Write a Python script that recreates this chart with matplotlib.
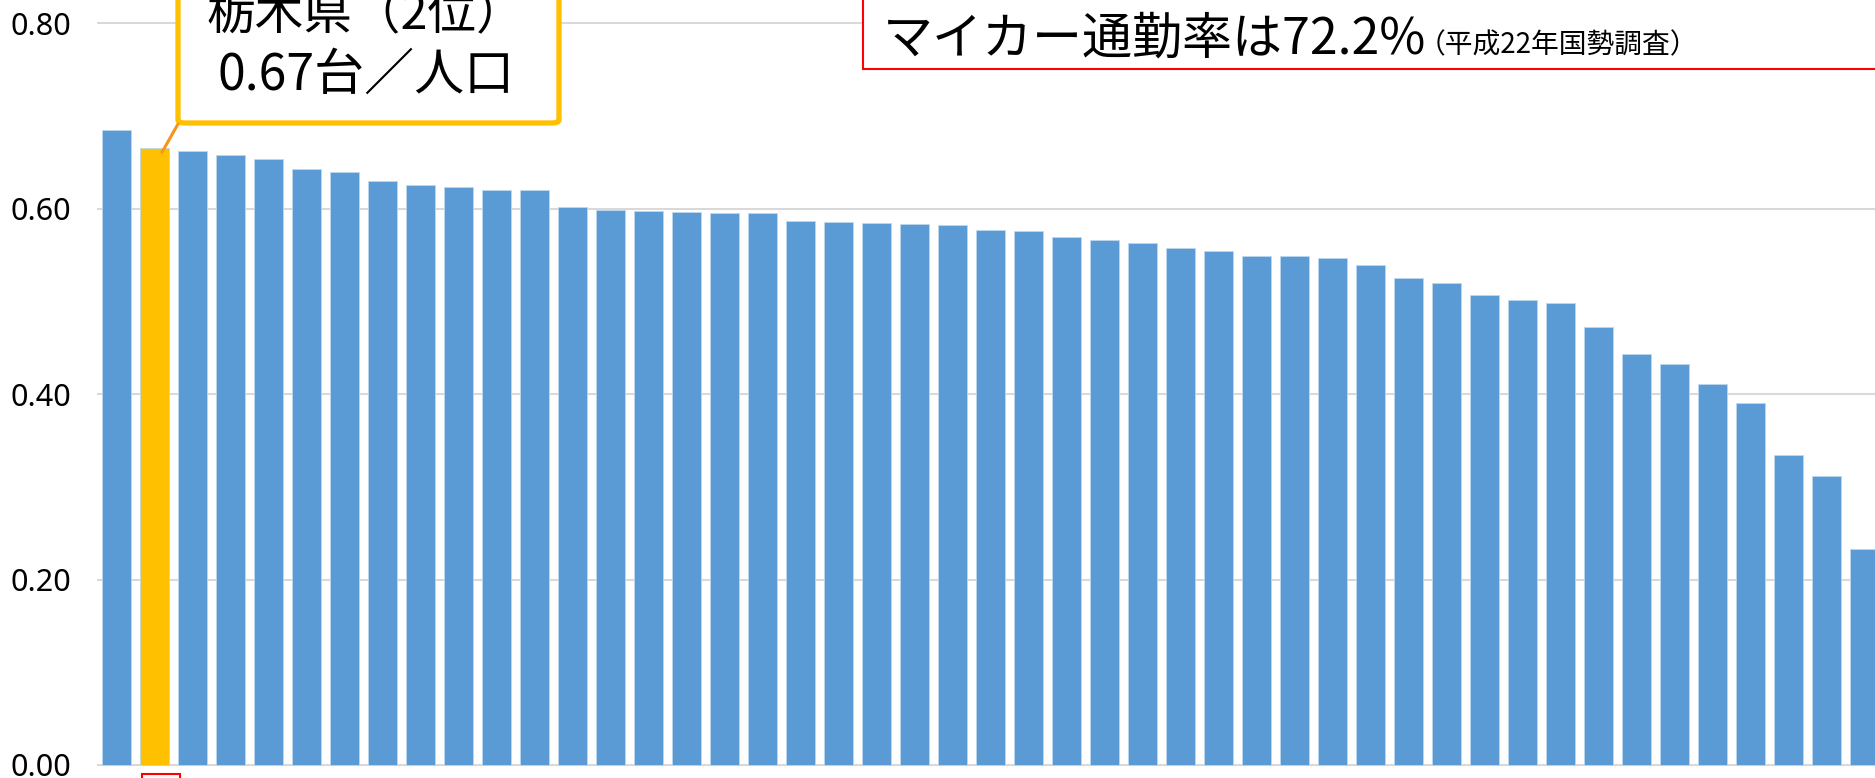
import matplotlib
matplotlib.use("Agg")
import matplotlib.pyplot as plt
from matplotlib.patches import FancyBboxPatch, Rectangle, ConnectionPatch

plt.rcParams['font.family'] = ['Noto Sans CJK JP', 'DejaVu Sans']

# cars per person, prefectures ranked 1..47
ranks = list(range(1, 48))
cars_per_person = [0.685, 0.666, 0.662, 0.658, 0.654, 0.643, 0.640, 0.630, 0.626, 0.624,
                   0.620, 0.620, 0.602, 0.599, 0.598, 0.597, 0.596, 0.595, 0.587, 0.586,
                   0.585, 0.584, 0.583, 0.577, 0.576, 0.570, 0.566, 0.563, 0.558, 0.555,
                   0.549, 0.549, 0.547, 0.539, 0.525, 0.520, 0.507, 0.502, 0.498, 0.472,
                   0.443, 0.433, 0.411, 0.390, 0.334, 0.312, 0.233]
highlight_rank = 2
y_ticks = [0.0, 0.2, 0.4, 0.6, 0.8]
box_name = "栃木県（2位）"
box_value = "0.67台／人口"
note_main = "マイカー通勤率は72.2%"
note_sub = "（平成22年国勢調査）"

W, H = 1875, 778


def fx(x):
    return x / W


def fy(y):
    return 1 - y / H


fig = plt.figure(figsize=(W / 100, H / 100), dpi=100)

# axes laid out in pixels: value 0 at y=765, 0.8 at y=23
y0_px = 765
px_per_unit = 927
ax = fig.add_axes([fx(97.4), 0, 47 * 38 / W, 1])
ax.set_xlim(-0.5, 46.5)
ax.set_ylim(-(H - y0_px) / px_per_unit, y0_px / px_per_unit)

colors = ['#FFC000' if r == highlight_rank else '#5B9BD5' for r in ranks]
xs = [r - 1 for r in ranks]
ax.bar(xs, cars_per_person, width=0.776, color=colors, edgecolor='#BDD7EE',
       linewidth=0.6, zorder=3)

for t in y_ticks:
    ax.axhline(t, color='#D9D9D9', lw=1.5, zorder=1)

ax.set_yticks(y_ticks)
ax.set_yticklabels(["%.2f" % t for t in y_ticks], fontsize=22, family='Noto Sans')
ax.tick_params(axis='y', length=0, pad=19)
ax.set_xticks([])
for s in ax.spines.values():
    s.set_visible(False)

# yellow callout
yb = FancyBboxPatch((fx(178), fy(123)), fx(559) - fx(178), fy(-30) - fy(123),
                    boxstyle="round,pad=0,rounding_size=0.004", transform=fig.transFigure,
                    facecolor='white', edgecolor='#FFC000', lw=3.8, zorder=5)
fig.add_artist(yb)
fig.text(fx(366), fy(16), box_name, ha='center', va='center', fontsize=35, zorder=6)
fig.text(fx(366), fy(76), box_value, ha='center', va='center', fontsize=36, zorder=6)

con = ConnectionPatch(xyA=(fx(178), fy(124)), coordsA='figure fraction',
                      xyB=(1.2, cars_per_person[1] - 0.005), coordsB='data', axesB=ax,
                      color='#F7941D', lw=2.2, zorder=6)
fig.add_artist(con)

# red note box
rb = Rectangle((fx(863), fy(69)), fx(1900) - fx(863), fy(-20) - fy(69),
               transform=fig.transFigure, facecolor='white', edgecolor='#FF0000',
               lw=1.5, zorder=5)
fig.add_artist(rb)
fig.text(fx(883), fy(53), note_main, ha='left', va='baseline', fontsize=36, zorder=6)
fig.text(fx(1418), fy(53), note_sub, ha='left', va='baseline', fontsize=20, zorder=6)

# small red marker under the highlighted bar
mk = Rectangle((fx(142), fy(800)), fx(180) - fx(142), fy(774) - fy(800),
               transform=fig.transFigure, facecolor='none', edgecolor='#FF0000',
               lw=1.5, zorder=5)
fig.add_artist(mk)

fig.savefig("out.png", dpi=100)
